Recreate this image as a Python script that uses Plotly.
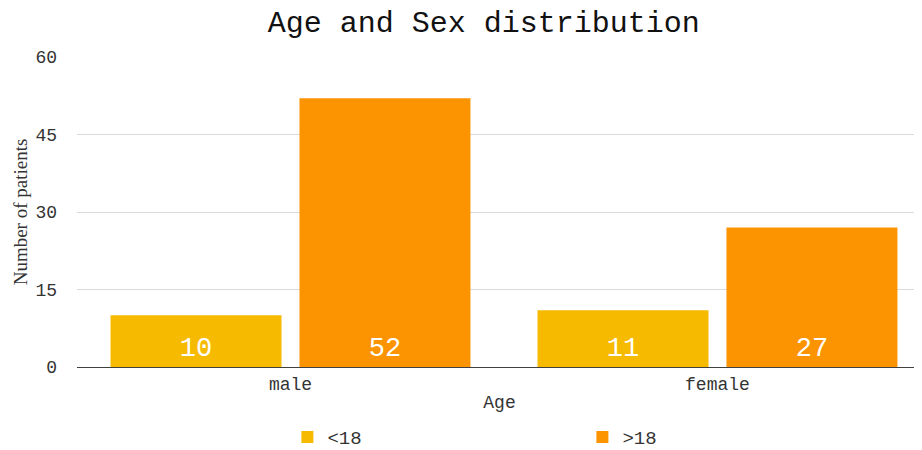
import plotly.graph_objects as go

categories = ["male", "female"]
under18 = [10, 11]
over18 = [52, 27]
series_names = ["<18", ">18"]
y_ticks = [0, 15, 30, 45, 60]

FONT = "Liberation Mono"
C1 = "#F6BA00"
C2 = "#FB9400"

fig = go.Figure()
for name, vals, col in [(series_names[0], under18, C1), (series_names[1], over18, C2)]:
    fig.add_trace(go.Bar(
        x=categories, y=vals, name=name, marker=dict(color=col, line=dict(width=0)),
        text=[str(v) for v in vals], textposition="inside", insidetextanchor="start",
        textangle=0, textfont=dict(family=FONT, size=27, color="white"),
        cliponaxis=False,
    ))

fig.update_layout(
    width=922, height=450,
    margin=dict(l=69, r=8, t=49, b=91, autoexpand=False),
    paper_bgcolor="white", plot_bgcolor="white",
    barmode="group", bargap=0.115, bargroupgap=0.095,
    title=dict(text="Age and Sex distribution", x=0.516, xanchor="center", y=0.969, yanchor="middle",
               font=dict(family=FONT, size=30, color="#111")),
    font=dict(family=FONT, color="#333"),
    showlegend=True,
    legend=dict(orientation="h", x=0.249, xanchor="left", y=-0.226, yanchor="middle",
                entrywidth=250, entrywidthmode="pixels",
                font=dict(family=FONT, size=19, color="#333")),
)
fig.update_xaxes(
    range=[-0.5, 1.479], showgrid=False, showline=True, linecolor="#404040", linewidth=1,
    ticks="", tickfont=dict(family=FONT, size=18, color="#333"), automargin=False,
    title=dict(text="Age", font=dict(family=FONT, size=18, color="#333"), standoff=1),
)
fig.update_yaxes(
    range=[0, 60], tickvals=y_ticks, showgrid=True, gridcolor="#d9d9d9", gridwidth=1,
    zeroline=False, showline=False, ticks="", ticklabelstandoff=19, automargin=False,
    tickfont=dict(family=FONT, size=18, color="#333"),
    title=dict(text="Number of patients", font=dict(family="Liberation Serif", size=19, color="#333"), standoff=2),
)

fig.write_html("out.html")
